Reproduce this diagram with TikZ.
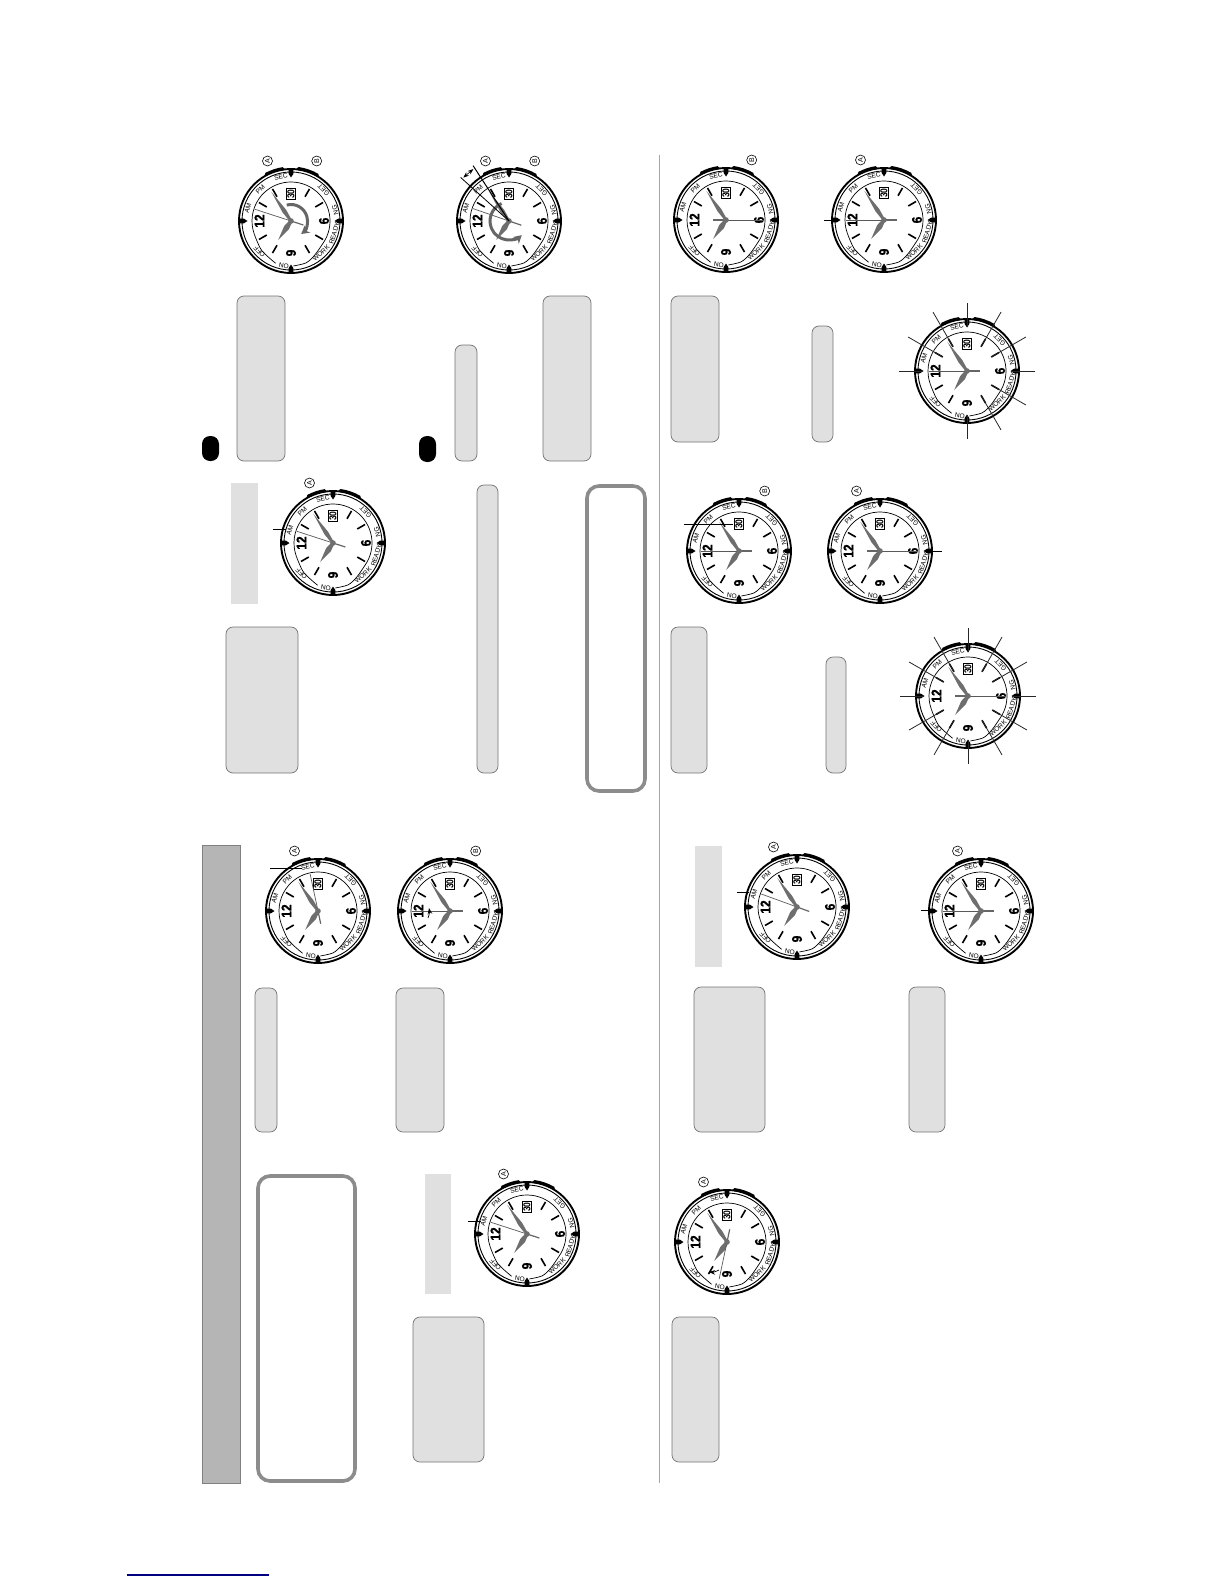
\documentclass[tikz,border=0pt]{standalone}
\usepackage{fontspec}
\setmainfont{Liberation Sans}
\newfontfamily\numfont[FakeStretch=.85,FakeBold=1.2]{Liberation Sans Bold}
\newfontfamily\datefont[FakeStretch=.85]{Liberation Sans Bold}
\usetikzlibrary{arrows.meta,calc}

\definecolor{tagfill}{HTML}{E0E0E0}
\definecolor{handgray}{HTML}{6E6E6E}

\tikzset{
    tagbox/.style={draw=black!55,fill=tagfill,line width=.7pt,rounded corners=7pt},
    tagflat/.style={fill=tagfill},
    notebox/.style={draw=black!45,line width=3.6pt,rounded corners=12pt,fill=white},
    pill/.style={fill=black,rounded corners=8pt},
    pointer/.style={line width=.9pt,black},
    ray/.style={line width=.8pt,black!85},
    turnarrow/.style={line width=3pt,black!60,-{Stealth[length=8pt,width=9pt]}},
    bezel/.style={font=\fontsize{6.6}{7}\selectfont,inner sep=0pt,text=black},
    btnmark/.style={draw,circle,minimum size=10pt,inner sep=0pt,line width=.6pt,rotate=90,font=\fontsize{7}{8}\selectfont},
    hournum/.style={font=\numfont\fontsize{14}{15}\selectfont,inner sep=0pt,rotate=90},
    pics/watchface/.style={code={
        \coordinate (-hub) at (0,0);
        \fill[white] (0,0) circle (52);
        \draw[line width=1.9pt] (0,0) circle (52);
        \draw[line width=.9pt] (0,0) circle (49);
        \draw[line width=3pt,line cap=round] (118:53) arc[start angle=118,end angle=99,radius=53];
        \draw[line width=3pt,line cap=round] (82:53) arc[start angle=82,end angle=60,radius=53];
        \draw[line width=.7pt] (-35:39) arc[start angle=-35,end angle=200,radius=39];
        \draw[line width=.7pt] plot[smooth] coordinates {(200:39) (225:41.5) (250:45)};
        \draw[line width=.7pt] plot[smooth] coordinates {(273:45) (290:44.5) (305:41.5) (325:39)};
        \foreach \a in {0,90,180,270}
            \fill[rotate=\a] (43.5,0) -- (47,2.3) -- (52,2.3) -- (52,-2.3) -- (47,-2.3) -- cycle;
        \foreach \a in {30,60,120,150,210,240,300,330}
            \draw[line width=1.6pt] (\a:28) -- (\a:37);
        \node[bezel,rotate=13]  (-sec)   at (103:45)  {SEC};
        \node[bezel,rotate=44]  (-pm)    at (134:44)  {PM};
        \node[bezel,rotate=73]  (-am)    at (163:45)  {AM};
        \node[bezel,rotate=133] (-get)   at (43.5:45) {GET};
        \node[bezel,rotate=104] (-ng)    at (14:45.5) {NG};
        \node[bezel,rotate=74]  (-ready) at (-16:45)  {READY};
        \node[bezel,rotate=43]  (-work)  at (-47:44)  {WORK};
        \node[bezel,rotate=170] (-on)    at (261:45)  {ON};
        \node[bezel,rotate=134] (-off)   at (224:44)  {OFF};
        \node[hournum] (-twelve) at (-31.5,0) {12};
        \node[hournum] (-six)    at (33,0)    {6};
        \node[hournum] (-nine)   at (0,-32)   {9};
        \node[draw,fill=white,line width=.9pt,inner sep=.7pt,rotate=90,
              font=\datefont\fontsize{10}{11}\selectfont] (-date) at (0,27) {30};
        \fill[handgray,rotate=124] (0,1.2) -- (12,2.2) -- (35,0) -- (12,-2.2) -- (0,-1.2) -- cycle;
        \fill[handgray,rotate=236] (0,1.5) -- (8,2.8) -- (23,0) -- (8,-2.8) -- (0,-1.5) -- cycle;
        \draw[line width=.7pt,black!65] (0,0) -- (#1:38);
        \draw[line width=1.2pt,black!60] (0,0) -- (#1+180:13);
        \fill[handgray] (0,0) circle (2.8);
    }},
    pics/watchface/.default=180
}

\begin{document}
\begin{tikzpicture}[x=1pt,y=1pt]
\useasboundingbox (0,0) rectangle (1224,-1584);

% boxes, left half
\fill[tagflat] (231,-483) rectangle (258,-604);
\fill[tagflat] (425,-1174) rectangle (451,-1294);
\fill[tagflat] (695,-846) rectangle (722,-967);
\draw[tagbox] (237,-296) rectangle (285,-461);
\draw[tagbox] (455,-345) rectangle (477,-461);
\draw[tagbox] (543,-296) rectangle (591,-461);
\draw[tagbox] (226,-627) rectangle (298,-773);
\draw[tagbox] (477,-485) rectangle (498,-773);
\draw[tagbox] (255,-988) rectangle (277,-1132);
\draw[tagbox] (396,-988) rectangle (444,-1132);
\draw[tagbox] (413,-1317) rectangle (484,-1462);
% boxes, right half
\draw[tagbox] (671,-296) rectangle (719,-442);
\draw[tagbox] (812,-326) rectangle (833,-442);
\draw[tagbox] (671,-627) rectangle (707,-773);
\draw[tagbox] (826,-657) rectangle (846,-773);
\draw[tagbox] (694,-987) rectangle (765,-1132);
\draw[tagbox] (909,-987) rectangle (945,-1132);
\draw[tagbox] (672,-1317) rectangle (719,-1462);
\draw[notebox] (587,-486) rectangle (645,-791);
\draw[notebox] (258,-1176) rectangle (355,-1481);
\fill[pill] (202,-436) rectangle (219,-461);
\fill[pill] (419,-436) rectangle (436,-462);
\draw[draw=black!50,fill=black!29,line width=.5pt] (202,-845) rectangle (240,-1483);
\draw[black!35,line width=1pt] (659.5,-155) -- (659.5,-1483);
\draw[blue!50!black,line width=1.1pt] (127,-1575) -- (269,-1575);

% watches
\pic (w1)  at (291,-221)  {watchface=162};
\pic (w2)  at (509,-221)  {watchface=161};
\pic (w3)  at (726,-220)  {watchface=0};
\pic (w4)  at (884,-220)  {watchface=180};
\pic (w5)  at (967,-371)  {watchface=180};
\pic (w6)  at (333,-543)  {watchface=162};
\pic (w7)  at (739,-551)  {watchface=180};
\pic (w8)  at (880,-551)  {watchface=0};
\pic (w9)  at (968,-696)  {watchface=0};
\pic (w10) at (318,-911)  {watchface=102};
\pic (w11) at (450,-911)  {watchface=180};
\pic (w12) at (797,-907)  {watchface=160};
\pic (w13) at (981,-911)  {watchface=180};
\pic (w14) at (527,-1234) {watchface=162};
\pic (w15) at (727,-1242) {watchface=258};

% button marks
\foreach \w in {w1,w2,w4,w6,w8,w10,w12,w13,w14,w15}
    \node[btnmark] (\w a) at ($(\w-hub)+(-23.5,60)$) {A};
\foreach \w in {w1,w2,w3,w7,w11}
    \node[btnmark] (\w b) at ($(\w-hub)+(25.7,60)$) {B};

% turning arrows
\draw[turnarrow] ($(w1-hub)+(105:16.5)$) arc[start angle=105,end angle=-52,radius=16.5];
\draw[turnarrow] ($(w2-hub)+(113:19)$) arc[start angle=113,end angle=312,radius=19];
\draw[line width=1pt] (w2-hub) -- ++(123:66);
\draw[line width=.8pt] (w2-hub) -- ++(138:65);
\draw[<->,>=Stealth,line width=.6pt] ($(w2-hub)+(136.5:63)$) -- ($(w2-hub)+(124.5:63)$);

% small arrows
\draw[->,>=Stealth,line width=.7pt] ($(w11-hub)+(-22,-7)$) to[bend right=15] ($(w11-hub)+(-21,3)$);
\draw[->,>=Stealth,line width=.7pt] ($(w15-hub)+(-8,-28)$) to[bend left=15] ($(w15-hub)+(-18,-30)$);

% rays
\foreach \a in {30,60,120,150,300,330}
    \draw[ray] ($(w5-hub)+(\a:68)$) -- ($(w5-hub)+(\a:28)$);
\foreach \a in {0,90,180,270}
    \draw[ray] ($(w5-hub)+(\a:68)$) -- ($(w5-hub)+(\a:44)$);
\foreach \a in {30,60,120,150,210,240,300,330}
    \draw[ray] ($(w9-hub)+(\a:68)$) -- ($(w9-hub)+(\a:28)$);
\foreach \a in {0,90,180,270}
    \draw[ray] ($(w9-hub)+(\a:68)$) -- ($(w9-hub)+(\a:44)$);

% pointers
\coordinate (p4a) at (824,-220);   \coordinate (p4b) at (837,-220);
\coordinate (p6a) at (273,-529);   \coordinate (p6b) at (286,-529);
\coordinate (p7a) at (684,-524);   \coordinate (p7b) at (733,-524);
\coordinate (p8a) at (930,-551);   \coordinate (p8b) at (942,-551);
\coordinate (p10a) at (270,-868);  \coordinate (p10b) at (302,-868);
\coordinate (p12a) at (737,-892);  \coordinate (p12b) at (749,-892);
\coordinate (p13a) at (921,-910);  \coordinate (p13b) at (933,-910);
\coordinate (p14a) at (468,-1221); \coordinate (p14b) at (481,-1221);
\foreach \p in {p4,p6,p7,p8,p10,p12,p13,p14}
    \draw[pointer] (\p a) -- (\p b);
\end{tikzpicture}
\end{document}
